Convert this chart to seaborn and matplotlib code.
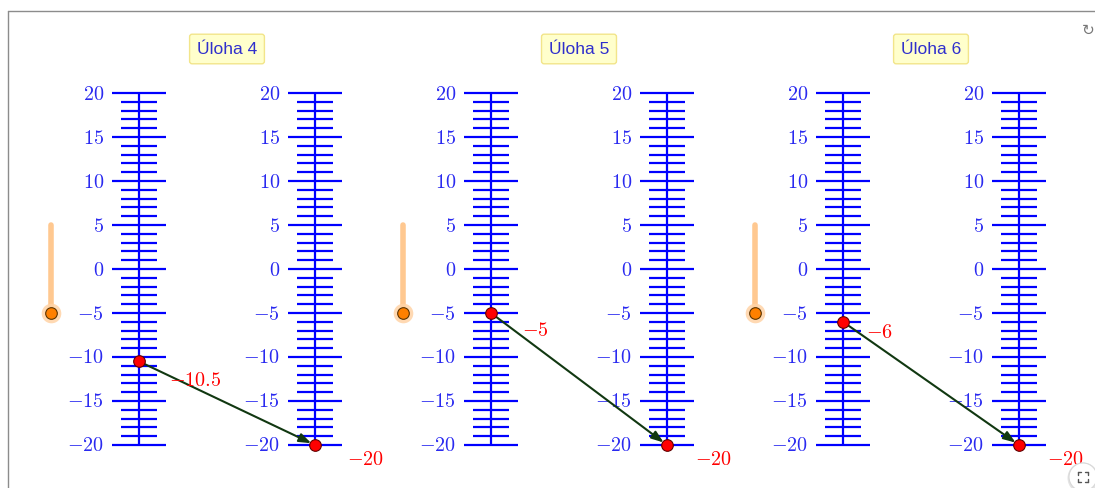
import numpy as np
import pandas as pd
import matplotlib
matplotlib.use("Agg")
import matplotlib.pyplot as plt
import seaborn as sns
from matplotlib.patches import Circle
from matplotlib.lines import Line2D

# ---------------- data ----------------
tasks = ["Úloha 4", "Úloha 5", "Úloha 6"]
start_values = [-10.5, -5, -6]
end_values = [-20, -20, -20]
slider_values = [-5, -5, -5]
slider_range = [-5, 5]
scale_min, scale_max = -20, 20
major_labels = [20, 15, 10, 5, 0, -5, -10, -15, -20]

# ---------------- layout (pixels) ----------------
W, H = 1095, 489
PX_PER_UNIT = 8.8
TOP_PX = 94  # pixel row of value 20
group_x = [139, 491, 843]
pair_dx = 176
label_offsets = [[(30, -18), (32, -14)], [(31, -16), (28, -14)], [(23, -10), (28, -14)]]

sns.set_theme(style="white")
plt.rcParams["mathtext.fontset"] = "cm"
plt.rcParams["font.family"] = ["Liberation Sans", "DejaVu Sans"]

fig = plt.figure(figsize=(W / 100, H / 100), dpi=100)
ax = fig.add_axes([0, 0, 1, 1])
ymax = scale_max + TOP_PX / PX_PER_UNIT
ymin = scale_max - (H - TOP_PX) / PX_PER_UNIT

BLUE = "#0000FF"
LBLUE = "#2A2AF0"
RED = "#FF0000"
ticks = np.arange(scale_min, scale_max + 1)
minor = ticks[ticks % 5 != 0]
major = ticks[ticks % 5 == 0]


def thermometer(xc):
    ax.vlines(xc, scale_min, scale_max, color=BLUE, lw=1.6, zorder=2)
    ax.hlines(minor, xc - 18, xc + 18, color=BLUE, lw=1.6, zorder=2)
    ax.hlines(major, xc - 27, xc + 27, color=BLUE, lw=1.6, zorder=2)
    for v in major_labels:
        ax.text(xc - 35, v, f"${v}$", ha="right", va="center", fontsize=14.5,
                color=LBLUE, zorder=3)


points = []
for i, gx in enumerate(group_x):
    x1, x2 = gx, gx + pair_dx
    thermometer(x1)
    thermometer(x2)
    # slider
    sx = gx - 88
    ax.plot([sx, sx], slider_range, color="#FFC890", lw=4, solid_capstyle="round", zorder=2)
    ax.scatter([sx], [slider_values[i]], s=200, color="#FFD3A6", alpha=0.85, lw=0, zorder=3)
    ax.scatter([sx], [slider_values[i]], s=70, color="#FF8000", edgecolor="#5A3300", lw=0.8, zorder=4)
    # title
    ax.text(gx + 88, scale_max + 44 / PX_PER_UNIT, tasks[i], ha="center", va="center",
            fontsize=12.5, color="#2F2FCC", zorder=5,
            bbox=dict(boxstyle="round,pad=0.42,rounding_size=0.15", fc="#FFFFCC", ec="#F2E58A", lw=1))
    # arrow
    ax.annotate("", xy=(x2, end_values[i]), xytext=(x1, start_values[i]),
                arrowprops=dict(arrowstyle="-|>,head_length=0.6,head_width=0.22", color="#113811",
                                lw=1.5, shrinkA=0, shrinkB=3), zorder=4)
    points.append((x1, start_values[i], label_offsets[i][0]))
    points.append((x2, end_values[i], label_offsets[i][1]))

df = pd.DataFrame({"x": [p[0] for p in points], "y": [p[1] for p in points]})
sns.scatterplot(data=df, x="x", y="y", ax=ax, s=70, color=RED, edgecolor="#600000",
                linewidth=0.8, zorder=6, legend=False)
ax.set_xlim(0, W)
ax.set_ylim(ymin, ymax)
ax.axis("off")
for x, v, off in points:
    ax.annotate(f"${v:g}$", xy=(x, v), xytext=off, textcoords="offset pixels",
                ha="left", va="center", fontsize=14.5, color=RED, zorder=6)

# frame of the applet
fx, fy = 8 / W, 1 - 12 / H
ax.add_line(Line2D([fx, 1], [fy, fy], transform=ax.transAxes, color="#8C8C8C", lw=1.0))
ax.add_line(Line2D([fx, fx], [0, fy], transform=ax.transAxes, color="#8C8C8C", lw=1.0))

# refresh icon
ax.text(1088 / W, 1 - 30 / H, "\u21bb", transform=ax.transAxes, ha="center", va="center",
        fontsize=11, color="#777777", family="DejaVu Sans")

# fullscreen button (figure-level, in pixel units)
cx, cy = 1083, 478
shadow = Circle((cx / 100, (H - cy - 1) / 100), 0.155, transform=fig.dpi_scale_trans,
                fc="#E4E4E4", ec="none", zorder=9)
button = Circle((cx / 100, (H - cy) / 100), 0.14, transform=fig.dpi_scale_trans,
                fc="white", ec="#D8D8D8", lw=0.8, zorder=10)
fig.patches.extend([shadow, button])
for sx_, sy_ in [(-1, 1), (1, 1), (-1, -1), (1, -1)]:
    bx, by = cx + sx_ * 5, cy - sy_ * 5
    fig.lines.append(Line2D([bx / W, (bx - sx_ * 3) / W], [1 - by / H, 1 - by / H],
                            transform=fig.transFigure, color="#555555", lw=1.0, zorder=11))
    fig.lines.append(Line2D([bx / W, bx / W], [1 - by / H, 1 - (by + sy_ * 3) / H],
                            transform=fig.transFigure, color="#555555", lw=1.0, zorder=11))

fig.savefig("out.png", dpi=100)
